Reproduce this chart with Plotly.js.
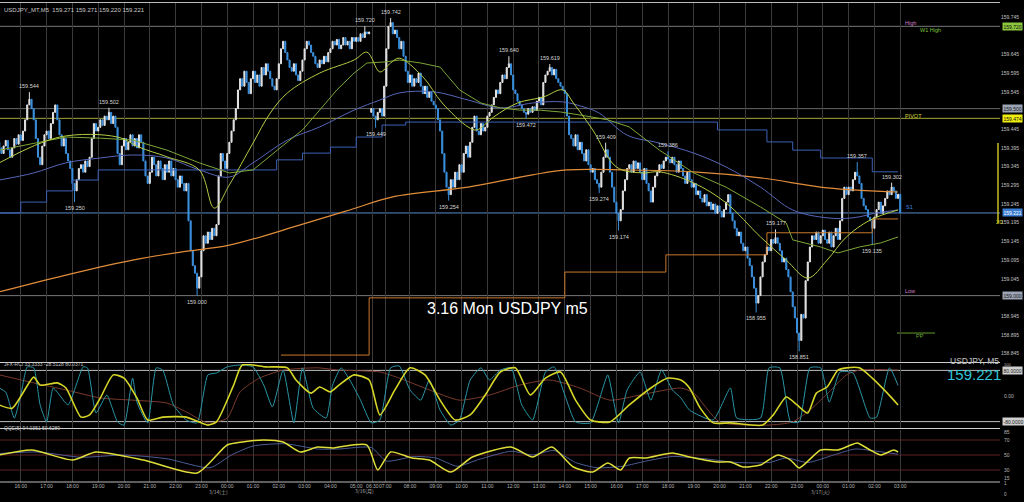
<!DOCTYPE html>
<html><head><meta charset="utf-8">
<script src="https://cdn.plot.ly/plotly-3.0.1.min.js"></script>
<style>html,body{margin:0;padding:0;background:#000;}#chart{width:1024px;height:502px;}</style>
</head><body><div id="chart"></div>
<script>
// ---------- price data (M5 closes) ----------
const fridayOpen = 159.430;
const mondayOpen = 159.490;
const closeFriSat = [
159.420,159.410,159.395,159.380,159.400,159.415,159.390,159.370,159.395,159.420,159.405,159.430,
159.415,159.440,159.470,159.510,159.525,159.500,159.470,159.420,159.370,159.350,159.400,159.430,
159.440,159.420,159.460,159.490,159.510,159.470,159.430,159.400,159.420,159.380,159.360,159.340,
159.300,159.280,159.310,159.340,159.350,159.330,159.360,159.345,159.370,159.420,159.460,159.440,
159.450,159.470,159.455,159.480,159.470,159.490,159.460,159.480,159.450,159.380,159.350,159.400,
159.420,159.390,159.410,159.430,159.400,159.420,159.395,159.430,159.410,159.360,159.320,159.300,
159.330,159.370,159.350,159.320,159.360,159.340,159.310,159.350,159.330,159.360,159.320,159.340,
159.310,159.290,159.320,159.300,159.280,159.300,159.200,159.120,159.080,159.060,159.020,159.050,
159.120,159.160,159.140,159.170,159.150,159.180,159.160,159.190,159.320,159.380,159.360,159.340,
159.380,159.410,159.440,159.470,159.500,159.550,159.580,159.560,159.600,159.570,159.540,159.580,
159.600,159.570,159.590,159.560,159.610,159.590,159.620,159.600,159.580,159.560,159.550,159.580,
159.620,159.660,159.680,159.650,159.630,159.610,159.600,159.620,159.590,159.575,159.600,159.630,
159.660,159.680,159.670,159.650,159.640,159.620,159.610,159.630,159.620,159.640,159.625,159.650,
159.660,159.680,159.670,159.685,159.660,159.670,159.690,159.670,159.680,159.660,159.690,159.680,
159.690,159.680,159.700,159.690,159.705,159.700,159.705
];
const closeMonTue = [
159.500,159.480,159.470,159.490,159.500,159.480,159.560,159.660,159.720,159.730,159.700,159.710,
159.690,159.660,159.680,159.640,159.600,159.570,159.590,159.560,159.580,159.570,159.595,159.560,
159.540,159.560,159.530,159.545,159.520,159.510,159.500,159.470,159.440,159.380,159.330,159.290,
159.270,159.310,159.290,159.330,159.310,159.350,159.330,159.380,159.400,159.370,159.410,159.450,
159.480,159.440,159.430,159.460,159.440,159.450,159.480,159.490,159.510,159.530,159.550,159.540,
159.570,159.590,159.580,159.610,159.620,159.590,159.550,159.540,159.520,159.510,159.500,159.490,
159.485,159.500,159.490,159.505,159.495,159.520,159.530,159.510,159.570,159.590,159.600,159.610,
159.590,159.605,159.580,159.570,159.560,159.550,159.540,159.480,159.430,159.420,159.400,159.430,
159.390,159.410,159.380,159.360,159.390,159.350,159.330,159.340,159.310,159.300,159.290,159.330,
159.370,159.390,159.370,159.330,159.290,159.250,159.220,159.200,159.230,159.280,159.310,159.340,
159.350,159.330,159.360,159.340,159.355,159.330,159.310,159.340,159.300,159.280,159.250,159.290,
159.320,159.330,159.350,159.340,159.360,159.370,159.365,159.355,159.370,159.350,159.330,159.360,
159.340,159.320,159.300,159.330,159.310,159.290,159.300,159.270,159.280,159.260,159.250,159.270,
159.240,159.250,159.230,159.245,159.220,159.240,159.225,159.210,159.230,159.250,159.270,159.220,
159.200,159.180,159.160,159.170,159.140,159.120,159.130,159.100,159.080,159.050,159.020,158.980,
159.000,159.050,159.090,159.110,159.130,159.120,159.150,159.140,159.155,159.140,159.120,159.090,
159.100,159.070,159.050,159.010,158.970,158.940,158.900,158.880,158.950,158.940,159.040,159.090,
159.130,159.160,159.150,159.170,159.140,159.160,159.175,159.150,159.140,159.170,159.130,159.160,
159.180,159.150,159.200,159.260,159.290,159.270,159.290,159.280,159.310,159.330,159.320,159.300,
159.260,159.240,159.230,159.210,159.200,159.180,159.210,159.230,159.250,159.220,159.240,159.260,
159.280,159.270,159.290,159.280,159.260,159.271,159.221
];
// labelled highs / lows (bar index, price)
const peakBars   = [16, 53, 172, 184, 239, 258, 284, 313, 363, 401, 417];
const peakPrices = [159.544,159.502,159.720,159.742,159.640,159.619,159.409,159.386,159.177,159.357,159.302];
const troughBars   = [37, 94, 177, 211, 247, 281, 290, 354, 374, 408];
const troughPrices = [159.250,159.000,159.449,159.254,159.472,159.274,159.174,158.955,158.851,159.135];

// time axis
const tickBars = [12,24,36,48,60,72,84,96,108,120,132,144,156,168,175.5,181.5,193,205,217,229,241,253,265,277,289,301,313,325,337,349,361,373,385,397,409,421];
const tickLabels = ['16:00','17:00','18:00','19:00','20:00','21:00','22:00','23:00','00:00','01:00','02:00','03:00','04:00','05:00','06:30','07:00','08:00','09:00','10:00','11:00','12:00','13:00','14:00','15:00','16:00','17:00','18:00','19:00','20:00','21:00','22:00','23:00','00:00','01:00','02:00','03:00'];
const dateBars = [104, 172, 384];
const dateLabels = ['3/14(土)', '3/16(月)', '3/17(火)'];

// moving averages / channels (bar index, price)
const limeBars = [2,30,57,67,80,95,102,109,120,128,136,151,167,173,179,184,188,199,208,220,224,232,243,255,264,269,278,289,301,309,325,340,356,368,378,387,396,407,420];
const limeVals = [159.355,159.424,159.424,159.397,159.371,159.336,159.234,159.296,159.408,159.488,159.542,159.595,159.630,159.651,159.598,159.622,159.635,159.585,159.515,159.451,159.443,159.478,159.515,159.531,159.550,159.515,159.443,159.344,159.328,159.331,159.301,159.248,159.157,159.095,159.047,159.095,159.157,159.202,159.229];
const greenBars = [2,18,33,49,64,80,95,109,120,133,143,151,159,167,173,182,188,198,207,216,226,235,244,253,263,272,285,295,309,325,340,356,368,371,384,392,402,412,420];
const greenVals = [159.389,159.408,159.424,159.421,159.416,159.389,159.355,159.328,159.336,159.397,159.443,159.496,159.550,159.595,159.622,159.625,159.630,159.622,159.611,159.550,159.515,159.502,159.496,159.496,159.491,159.483,159.470,159.451,159.389,159.328,159.290,159.237,159.194,159.149,159.130,159.114,159.130,159.141,159.157];
const blueMaBars = [2,18,33,49,64,80,95,109,120,136,151,167,179,188,204,220,235,250,264,274,281,294,309,325,340,356,371,387,399,410,420];
const blueMaVals = [159.309,159.328,159.355,159.368,159.376,159.368,159.336,159.317,159.355,159.416,159.451,159.496,159.523,159.542,159.545,159.523,159.502,159.515,159.518,159.504,159.488,159.429,159.408,159.381,159.344,159.290,159.229,159.208,159.208,159.221,159.229];
const orangeMaBars = [2,33,64,87,109,142,165,185,220,250,266,294,325,356,387,420];
const orangeMaVals = [159.010,159.055,159.095,159.117,159.135,159.189,159.229,159.264,159.290,159.323,159.336,159.336,159.331,159.315,159.288,159.277];
const blueStepBars = [2,12,24,36,48,131,143,156,168,180,191,336,359,371,384,408,420];
const blueStepVals = [159.221,159.250,159.280,159.309,159.336,159.363,159.381,159.397,159.424,159.456,159.464,159.443,159.411,159.389,159.368,159.331,159.331];
const orangeStepBars = [133,174,265,312,359,408,420];
const orangeStepVals = [158.841,158.994,159.063,159.109,159.168,159.205,159.205];

// levels
const W1_HIGH = 159.720, ROUND_LEVEL = 159.500, PIVOT = 159.474, LAST_PRICE = 159.221, DAY_LOW = 159.000, PP_LEVEL = 158.900;

// RCI
const rciFastBars = [2,5,9,12,15,18,21,24,27,29,34,41,43,47,52,57,60,64,66,71,75,78,83,89,94,99,103,108,114,120,125,129,134,139,143,148,154,157,161,165,170,175,179,184,188,193,198,202,207,212,216,221,226,230,235,240,245,250,256,260,265,270,277,281,285,290,294,300,305,310,315,319,323,334,342,345,356,360,365,370,374,379,384,388,393,399,407,410,416,420];
const rciFastVals = [25,12,-69,3,91,88,-28,-81,25,12,-28,91,88,-53,3,-81,-91,56,-19,-84,88,81,-28,-75,-84,66,72,91,97,91,34,-34,81,-84,88,-38,-69,34,88,50,-13,-84,-75,88,94,19,-13,50,-44,-91,-75,50,88,50,81,88,-28,-75,75,91,3,-81,-84,-13,66,-84,19,75,-13,81,19,-6,-44,-75,25,-69,-69,88,88,-81,-81,88,88,-19,75,72,-69,-66,88,33];
const rciMidBars = [2,8,18,21,29,33,40,44,49,55,60,66,71,78,89,99,103,111,115,126,136,140,147,151,156,160,167,174,179,186,193,200,207,214,221,228,235,242,249,256,263,270,277,286,295,305,313,319,323,328,334,342,357,362,368,373,378,382,387,392,396,402,408,415,420];
const rciMidVals = [-28,-38,59,34,41,25,-66,-59,-6,66,56,-6,-75,-66,-66,-91,-81,34,97,91,88,50,9,28,13,34,66,50,-59,19,88,66,-13,-75,-59,3,75,88,3,56,75,-13,-75,-81,-28,25,56,50,25,-38,-84,-84,-91,-59,-3,-28,-53,9,28,81,88,88,56,9,-28];
const rciSlowBars = [2,18,33,49,64,80,89,99,108,114,123,134,150,160,179,188,202,216,230,244,258,272,286,300,319,325,337,359,371,380,388,396,402,420];
const rciSlowVals = [66,41,19,-6,-13,-22,-50,-84,-69,13,56,81,88,81,75,56,19,-13,3,34,50,25,-13,3,25,9,-81,-91,-81,-38,13,66,81,81];

// QQE
const qqeBars = [2,17,36,47,69,94,108,115,125,134,142,150,157,160,173,178,184,194,202,212,222,240,250,259,269,278,285,291,295,303,315,323,336,342,348,356,364,370,374,384,392,398,401,407,412,418,420];
const qqeVals = [50,56.7,43.3,54,43.3,26,63.3,67.3,70,67.3,54,60.7,59.3,60.7,63.3,30,54,46,43.3,27.3,47.3,60.7,47.3,60.7,34,27.3,39.3,30,46,46,52.7,47.3,40.7,40.7,34,36.7,50,43.3,32.7,56.7,56.7,63.3,66,56.7,50,56.7,54];
const qqeSlowBars = [2,20,40,60,80,100,110,120,135,150,160,175,182,195,205,215,225,240,250,260,270,280,292,303,315,330,345,360,368,378,390,400,410,420];
const qqeSlowVals = [52,54,47,50,45,33,50,62,65,58,58,60,42,48,46,35,44,55,50,56,40,33,35,42,48,45,40,40,46,40,50,58,55,51];

// ---------- build ----------
const close = closeFriSat.concat(closeMonTue);
const bars = close.map((_, i) => i);
const open = close.map((c, i) => i === 0 ? fridayOpen : (i === closeFriSat.length ? mondayOpen : close[i - 1]));
const high = close.map((c, i) => Math.max(c, open[i]));
const low = close.map((c, i) => Math.min(c, open[i]));
peakBars.forEach((b, k) => { high[b] = peakPrices[k]; });
troughBars.forEach((b, k) => { low[b] = troughPrices[k]; });

const FONT = 'Liberation Sans, Arial, sans-serif';
const xRange = [2.33, 467.4];

function line(x, y, color, width, axis, shape, smoothing) {
  const ln = {color: color, width: width, shape: shape || 'linear'};
  if (shape === 'spline') ln.smoothing = smoothing === undefined ? 1 : smoothing;
  return {type: 'scatter', mode: 'lines', x: x, y: y, xaxis: axis[0], yaxis: axis[1],
    line: ln, hoverinfo: 'skip', showlegend: false, cliponaxis: true};
}

const traces = [
  line(orangeStepBars, orangeStepVals, '#c8782c', 1, ['x','y'], 'hv'),
  line(blueStepBars, blueStepVals, '#3d62b8', 1, ['x','y'], 'hv'),
  line(orangeMaBars, orangeMaVals, '#e08c3a', 1.2, ['x','y'], 'spline'),
  line(blueMaBars, blueMaVals, '#5666b8', 1, ['x','y'], 'spline'),
  line(greenBars, greenVals, '#7ea636', 1, ['x','y'], 'linear'),
  line(limeBars, limeVals, '#b4cc44', 1, ['x','y'], 'spline'),
  {type: 'candlestick', x: bars, open: open, high: high, low: low, close: close, xaxis: 'x', yaxis: 'y',
    increasing: {line: {color: '#e4e4e4', width: 1}, fillcolor: '#e4e4e4'},
    decreasing: {line: {color: '#3b90de', width: 1}, fillcolor: '#3b90de'},
    whiskerwidth: 0, hoverinfo: 'skip', showlegend: false},
  line(rciSlowBars, rciSlowVals, '#7a3a2c', 1, ['x2','y2'], 'spline', 0.6),
  line(rciFastBars, rciFastVals, '#2a96a6', 1, ['x2','y2'], 'spline', 0.5),
  line(rciMidBars, rciMidVals, '#d6d628', 1.6, ['x2','y2'], 'spline', 0.6),
  line(qqeSlowBars, qqeSlowVals, '#4c5c94', 1, ['x3','y3'], 'spline', 0.6),
  line(qqeBars, qqeVals, '#dede3a', 1.5, ['x3','y3'], 'spline', 0.6)
];

function hline(yv, color, yref, x0, x1, width) {
  return {type: 'line', xref: 'paper', x0: x0 === undefined ? 0 : x0, x1: x1 === undefined ? 1 : x1,
    yref: yref, y0: yv, y1: yv, line: {color: color, width: width || 1}, layer: 'below'};
}
function pline(py, color) { // py = pixel row
  const v = (482 - py) / 480;
  return {type: 'line', xref: 'paper', x0: 0, x1: 1, yref: 'paper', y0: v, y1: v, line: {color: color, width: 1}};
}

const shapes = [
  hline(W1_HIGH, '#777777', 'y'),
  hline(ROUND_LEVEL, '#666666', 'y'),
  hline(PIVOT, '#a6a632', 'y'),
  hline(LAST_PRICE, '#5a8cd0', 'y'),
  hline(DAY_LOW, '#777777', 'y'),
  hline(PP_LEVEL, '#5e9a2c', 'y', 0.897, 0.935),
  {type: 'line', xref: 'paper', x0: 0.998, x1: 0.998, yref: 'y', y0: 159.194, y1: 159.408, line: {color: '#c8c020', width: 1.5}},
  hline(80, '#bdbdbd', 'y2'), hline(-80, '#bdbdbd', 'y2'),
  hline(70, '#5e1e1e', 'y3'), hline(50, '#5e1e1e', 'y3'), hline(30, '#5e1e1e', 'y3'),
  pline(2.5, '#bcbcbc'), pline(362.5, '#cfcfcf'), pline(428.5, '#cfcfcf'), pline(482, '#bcbcbc')
];

function txt(x, y, text, size, color, opts) {
  return Object.assign({x: x, y: y, text: text, showarrow: false, font: {family: FONT, size: size, color: color}}, opts || {});
}
function pyv(py) { return (482 - py) / 480; }

const annotations = [];
peakBars.forEach((b, k) => annotations.push(txt(b, peakPrices[k], peakPrices[k].toFixed(3), 5.5, '#d6d6d6',
  {xref: 'x', yref: 'y', yanchor: 'bottom', yshift: 1})));
troughBars.forEach((b, k) => annotations.push(txt(b, troughPrices[k], troughPrices[k].toFixed(3), 5.5, '#d6d6d6',
  {xref: 'x', yref: 'y', yanchor: 'top', yshift: -1})));

// line labels inside chart
annotations.push(txt(0.903, 159.729, 'High', 5.5, '#d07cc4', {xref: 'paper', yref: 'y', xanchor: 'left'}));
annotations.push(txt(0.918, 159.709, 'W1 High', 5.5, '#7cc23a', {xref: 'paper', yref: 'y', xanchor: 'left'}));
annotations.push(txt(0.903, 159.481, 'PIVOT', 5.5, '#d2d23c', {xref: 'paper', yref: 'y', xanchor: 'left'}));
annotations.push(txt(0.904, 159.237, 'S1', 5.5, '#3f86e6', {xref: 'paper', yref: 'y', xanchor: 'left'}));
annotations.push(txt(0.903, 159.011, 'Low', 5.5, '#d07cc4', {xref: 'paper', yref: 'y', xanchor: 'left'}));
annotations.push(txt(0.914, 158.891, 'PP', 5.5, '#6aa832', {xref: 'paper', yref: 'y', xanchor: 'left'}));
annotations.push(txt(0.999, 159.197, '20', 6, '#d8d020', {xref: 'paper', yref: 'y', xanchor: 'center'}));

// price-axis boxes
function box(yv, text, bg, fg, yref) {
  return txt(1, yv, text, 5, fg, {xref: 'paper', yref: yref || 'y', xanchor: 'left', xshift: 2, bgcolor: bg, borderpad: 0.5});
}
annotations.push(box(W1_HIGH, '159.720', '#8cc63e', '#101010'));
annotations.push(box(ROUND_LEVEL, '159.500', '#9aa4b4', '#1a1a1a'));
annotations.push(box(PIVOT, '159.474', '#f0ee10', '#101010'));
annotations.push(box(LAST_PRICE, '159.221', '#3b7dd0', '#ffffff'));
annotations.push(box(DAY_LOW, '159.000', '#9aa4b4', '#1a1a1a'));
annotations.push(box(80, '80.0000', '#cfcfcf', '#202020', 'y2'));
annotations.push(box(-80, '-80.0000', '#cfcfcf', '#202020', 'y2'));
annotations.push(txt(1, 98, '100', 4, '#b8b8b8', {xref: 'paper', yref: 'y2', xanchor: 'left', xshift: 2}));
annotations.push(txt(1, 0, '0.00', 5, '#b8b8b8', {xref: 'paper', yref: 'y2', xanchor: 'left', xshift: 2}));
[[80.7,'85'],[70,'70'],[50,'50'],[30,'30'],[19,'15']].forEach(p => annotations.push(
  txt(1, p[0], p[1], 5, '#b8b8b8', {xref: 'paper', yref: 'y3', xanchor: 'left', xshift: 2})));
annotations.push(txt(1, pyv(488), '1', 4.5, '#b8b8b8', {xref: 'paper', yref: 'paper', xanchor: 'left', xshift: 2}));
annotations.push(txt(1, pyv(499), '0', 4.5, '#b8b8b8', {xref: 'paper', yref: 'paper', xanchor: 'left', xshift: 2}));

// headers
annotations.push(txt(0.002, pyv(5), 'USDJPY_MT,M5  159.271 159.271 159.220 159.221', 6, '#c8c8c8', {xref: 'paper', yref: 'paper', xanchor: 'left'}));
annotations.push(txt(0.002, pyv(369), 'JFX-RCI 33.3333 -28.5128 80.0371', 5, '#c8c8c8', {xref: 'paper', yref: 'paper', xanchor: 'left'}));
annotations.push(txt(0.002, pyv(433), 'QQE(5) 94.0351 50.6289', 5, '#c8c8c8', {xref: 'paper', yref: 'paper', xanchor: 'left'}));
annotations.push(txt(0.974, pyv(366.5), 'USDJPY, M5', 8.5, '#c4c4c4', {xref: 'paper', yref: 'paper', xanchor: 'center', borderpad: 0}));
annotations.push(txt(0.974, pyv(384), '159.221', 15, '#2ec4d6', {xref: 'paper', yref: 'paper', xanchor: 'center', borderpad: 0}));
annotations.push(txt(0.507, pyv(308), '3.16 Mon USDJPY m5', 16, '#ffffff', {xref: 'paper', yref: 'paper', xanchor: 'center'}));
dateBars.forEach((b, k) => annotations.push(txt(b, pyv(496.5), dateLabels[k], 5, '#a8a8a8',
  {xref: 'x3', yref: 'paper', xanchor: 'center', font: {family: 'Noto Sans CJK JP, ' + FONT, size: 5, color: '#a8a8a8'}})));

const xBase = {range: xRange, tickvals: tickBars, ticktext: tickLabels, showgrid: true, gridcolor: '#3a3a3a', gridwidth: 1,
  zeroline: false, showline: false, ticks: '', fixedrange: true, tickangle: 0};

const layout = {
  width: 1024, height: 502,
  margin: {l: 0, r: 24, t: 2, b: 20},
  paper_bgcolor: '#000000', plot_bgcolor: '#000000',
  showlegend: false, hovermode: false,
  xaxis: Object.assign({}, xBase, {anchor: 'y', showticklabels: false, rangeslider: {visible: false}}),
  xaxis2: Object.assign({}, xBase, {anchor: 'y2', showticklabels: false, matches: 'x'}),
  xaxis3: Object.assign({}, xBase, {anchor: 'y3', showticklabels: true, matches: 'x', ticklabelstandoff: 0,
    tickfont: {family: FONT, size: 5, color: '#b4b4b4'}}),
  yaxis: {domain: [0.25, 0.99792], range: [158.8225, 159.7824], side: 'right', anchor: 'x',
    tickvals: [159.745,159.645,159.595,159.545,159.445,159.395,159.345,159.295,159.245,159.195,159.145,159.095,159.045,158.945,158.895,158.845],
    tickformat: '.3f', tickfont: {family: FONT, size: 5, color: '#c0c0c0'}, ticks: '', showgrid: false, zeroline: false, fixedrange: true},
  yaxis2: {domain: [0.1125, 0.24583], range: [-100, 100], anchor: 'x2', showticklabels: false, showgrid: false, zeroline: false, fixedrange: true},
  yaxis3: {domain: [0, 0.10833], range: [14, 83.33], anchor: 'x3', showticklabels: false, showgrid: false, zeroline: false, fixedrange: true},
  shapes: shapes,
  annotations: annotations
};

Plotly.newPlot('chart', traces, layout, {displayModeBar: false, staticPlot: true});
</script></body></html>
